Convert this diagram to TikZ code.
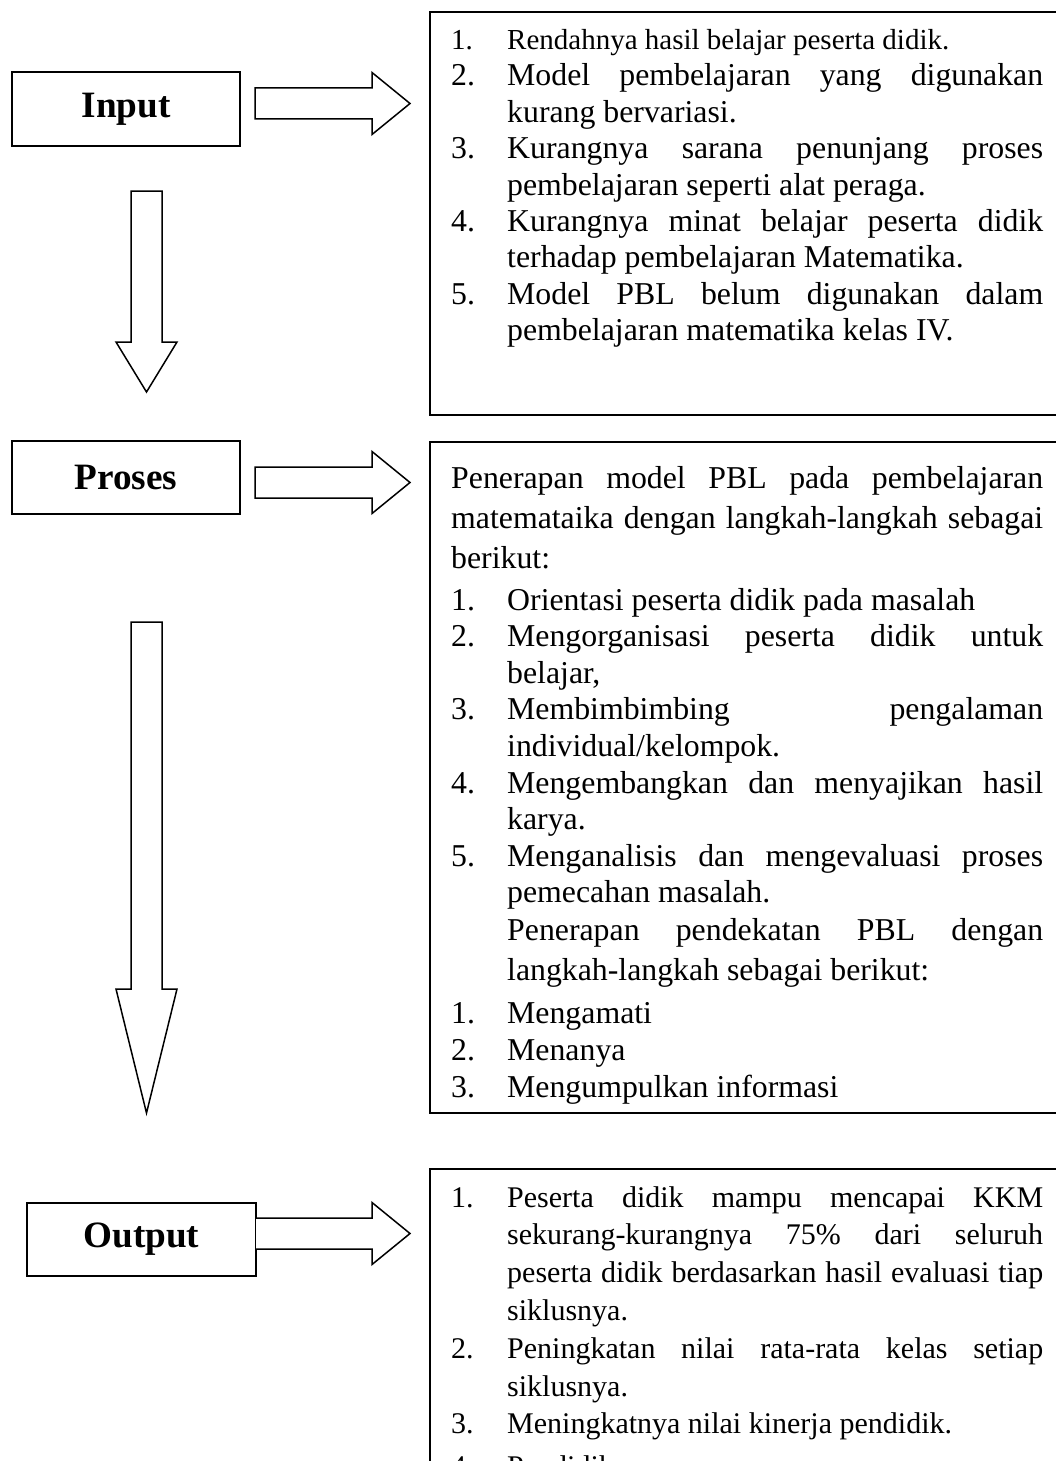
\documentclass[tikz,border=0pt]{standalone}
\usepackage{fontspec}
\setmainfont{Liberation Serif}
\newlength\numw \setlength\numw{56pt}
\newlength\txtw \setlength\txtw{536pt}
\newlength\fullw \setlength\fullw{592pt}
\newcommand\tline[2]{\baselineskip=#1pt\relax\hbox{#2}}
\newcommand\NJ[2]{\makebox[\numw][l]{#1}\makebox[\txtw][s]{#2}}
\newcommand\NL[2]{\makebox[\numw][l]{#1}#2}
\newcommand\CJ[1]{\kern\numw\makebox[\txtw][s]{#1}}
\newcommand\CL[1]{\kern\numw #1}
\newcommand\PJ[1]{\makebox[\fullw][s]{#1}}
\newcommand\blockset{\hsize=640pt\parindent=0pt\lineskiplimit=-1000pt\lineskip=0pt}
\tikzset{
  labelbox/.style={draw, line width=1.6pt, inner sep=0pt, minimum width=228pt, minimum height=74pt, font=\bfseries\fontsize{37.2}{40}\selectfont},
  textframe/.style={draw, line width=1.6pt, inner sep=0pt, anchor=north west, minimum width=660pt},
  textblock/.style={anchor=base west, inner sep=0pt},
  blockarrow/.style={draw, line width=1.5pt, fill=white, line join=miter}
}
\begin{document}
\begin{tikzpicture}[x=1pt,y=-1pt]
\useasboundingbox (0,0) rectangle (1056,1461);
\fill[white] (0,0) rectangle (1056,1461);
\clip (0,0) rectangle (1056,1461);

% left label boxes
\node[labelbox] (inp) at (126,109) {Input};
\node[labelbox, minimum height=73pt] (pro) at (126,477.5) {Proses};
\node[labelbox, minimum width=229pt, minimum height=73pt] (outp) at (141.5,1239.5) {Output};

% right text frames
\node[textframe, minimum height=403pt] (frin) at (429,11) {};
\node[textframe, minimum height=671pt] (frpro) at (429,441) {};
\node[textframe, minimum height=400pt] (frout) at (429,1168) {};

% block arrows to the right
\draw[blockarrow] (255,88) -- (372,88) -- (372,72.5) -- (410,103.5) -- (372,134.5) -- (372,119) -- (255,119) -- cycle;
\draw[blockarrow] (255,467) -- (372,467) -- (372,451.5) -- (410,482.5) -- (372,513.5) -- (372,498) -- (255,498) -- cycle;
\draw[blockarrow] (256,1218) -- (372,1218) -- (372,1202.5) -- (410,1233.5) -- (372,1264.5) -- (372,1249) -- (256,1249);

% block arrows downward
\draw[blockarrow] (131,191) -- (162,191) -- (162,342) -- (177,342) -- (146.5,392) -- (116,342) -- (131,342) -- cycle;
\draw[blockarrow] (131,622) -- (162,622) -- (162,989) -- (177,989) -- (146.5,1113) -- (116,989) -- (131,989) -- cycle;

% text of the input frame
\node[textblock] (tin) at (451,50) {\vtop{\blockset\fontsize{31.8}{36.4}\selectfont
\tline{36}{\fontsize{29}{33}\selectfont\NL{1.}{Rendahnya hasil belajar peserta didik.}}
\tline{36}{\NJ{2.}{Model pembelajaran yang digunakan}}
\tline{36.4}{\CL{kurang bervariasi.}}
\tline{36.4}{\NJ{3.}{Kurangnya sarana penunjang proses}}
\tline{36.4}{\CL{pembelajaran seperti alat peraga.}}
\tline{36.4}{\NJ{4.}{Kurangnya minat belajar peserta didik}}
\tline{36.4}{\CL{terhadap pembelajaran Matematika.}}
\tline{36.4}{\NJ{5.}{Model PBL belum digunakan dalam}}
\tline{36.4}{\CL{pembelajaran matematika kelas IV.}}
}};

% text of the process frame
\node[textblock] (tpro) at (451,488) {\vtop{\blockset\fontsize{31.8}{36.6}\selectfont
\tline{40}{\PJ{Penerapan model PBL pada pembelajaran}}
\tline{40}{\PJ{matemataika dengan langkah-langkah sebagai}}
\tline{40}{berikut:}
\tline{42}{\NL{1.}{Orientasi peserta didik pada masalah}}
\tline{36.6}{\NJ{2.}{Mengorganisasi peserta didik untuk}}
\tline{36.6}{\CL{belajar,}}
\tline{36.6}{\NJ{3.}{Membimbimbing pengalaman}}
\tline{36.6}{\CL{individual/kelompok.}}
\tline{36.6}{\NJ{4.}{Mengembangkan dan menyajikan hasil}}
\tline{36.6}{\CL{karya.}}
\tline{36.6}{\NJ{5.}{Menganalisis dan mengevaluasi proses}}
\tline{36.6}{\CL{pemecahan masalah.}}
\tline{38}{\CJ{Penerapan pendekatan PBL dengan}}
\tline{40}{\CL{langkah-langkah sebagai berikut:}}
\tline{43}{\NL{1.}{Mengamati}}
\tline{36.6}{\NL{2.}{Menanya}}
\tline{36.6}{\NL{3.}{Mengumpulkan informasi}}
}};

% text of the output frame
\node[textblock] (tout) at (451,1207) {\vtop{\blockset\fontsize{30}{37.8}\selectfont
\tline{37.8}{\NJ{1.}{Peserta didik mampu mencapai KKM}}
\tline{37.8}{\CJ{sekurang-kurangnya 75\% dari seluruh}}
\tline{37.8}{\CJ{peserta didik berdasarkan hasil evaluasi tiap}}
\tline{37.8}{\CL{siklusnya.}}
\tline{37.8}{\NJ{2.}{Peningkatan nilai rata-rata kelas setiap}}
\tline{37.8}{\CL{siklusnya.}}
\tline{37.8}{\NL{3.}{Meningkatnya nilai kinerja pendidik.}}
\tline{43}{\NL{4.}{Pendidik}}
}};
\end{tikzpicture}
\end{document}
